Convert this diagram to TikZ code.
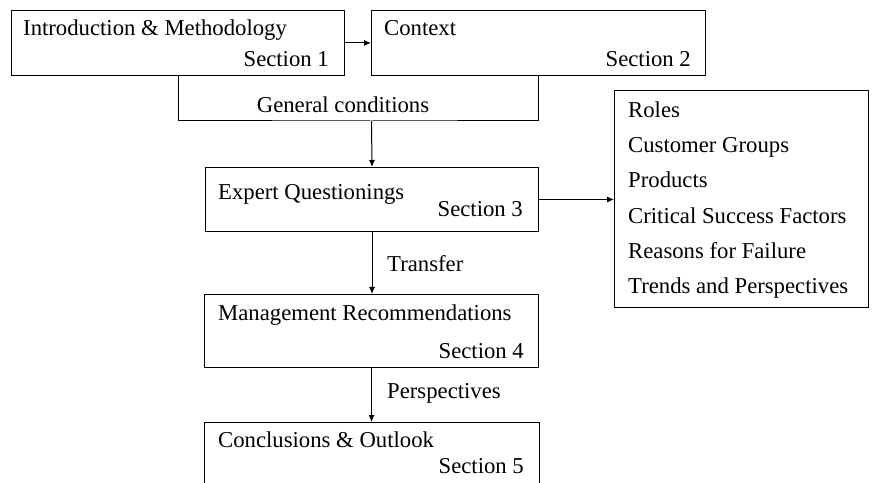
\documentclass[tikz,border=0pt]{standalone}
\usepackage{fontspec}
\setmainfont{Liberation Serif}
\usetikzlibrary{arrows.meta}
\begin{document}
\begin{tikzpicture}[x=1bp,y=-1bp,
  box/.style={draw=black,line width=1bp,rectangle,inner sep=0pt,anchor=north west},
  txt/.style={inner sep=0pt,font=\fontsize{22.8}{26}\selectfont},
  conn/.style={line width=1bp,draw=black},
  arr/.style={conn,-{Latex[length=7bp,width=6bp]}}]
\useasboundingbox (0,0) rectangle (880,483);
\clip (0,0) rectangle (880,483);
% boxes
\node[box,minimum width=333bp,minimum height=65bp] (b1) at (11,10) {};
\node[box,minimum width=334bp,minimum height=65bp] (b2) at (371,10) {};
\node[box,minimum width=333bp,minimum height=64bp] (b3) at (205,167) {};
\node[box,minimum width=254bp,minimum height=217bp] (lst) at (614,90) {};
\node[box,minimum width=334bp,minimum height=73bp] (b4) at (204,294) {};
\node[box,draw=none,minimum width=334bp,minimum height=80bp] (b5) at (204,422) {};
\draw[conn] (b5.south west) |- (b5.north east) -- (b5.south east);
% texts
\node[txt,anchor=base west] (t1) at (23,36) {Introduction \& Methodology};
\node[txt,anchor=base east] (s1) at (329,67) {Section 1};
\node[txt,anchor=base west] (t2) at (384,36) {Context};
\node[txt,anchor=base east] (s2) at (691,67) {Section 2};
\node[txt,anchor=base west] (t3) at (218,200) {Expert Questionings};
\node[txt,anchor=base east] (s3) at (523,217) {Section 3};
\node[txt,anchor=base west] (t4) at (218,321) {Management Recommendations};
\node[txt,anchor=base east] (s4) at (524,358) {Section 4};
\node[txt,anchor=base west] (t5) at (218,447) {Conclusions \& Outlook};
\node[txt,anchor=base east] (s5) at (524,473) {Section 5};
\node[txt,anchor=base] (gc) at (343,113) {General conditions};
\node[txt,anchor=base west] (tr) at (387,272) {Transfer};
\node[txt,anchor=base west] (pe) at (387,398) {Perspectives};
\node[txt,anchor=base west] (l1) at (628,118) {Roles};
\node[txt,anchor=base west] (l2) at (628,153) {Customer Groups};
\node[txt,anchor=base west] (l3) at (628,188) {Products};
\node[txt,anchor=base west] (l4) at (628,224) {Critical Success Factors};
\node[txt,anchor=base west] (l5) at (628,259) {Reasons for Failure};
\node[txt,anchor=base west] (l6) at (628,294) {Trends and Perspectives};
% connectors
\coordinate (j) at (371.5,121);
\draw[arr] (b1.east) -- (b2.west);
\draw[conn] (b1.south) |- (j) -| (b2.south);
\draw[arr] (j) -- (b3.north);
\draw[arr] (b3.east) -- (b3.east -| lst.west);
\draw[arr] (b3.south) -- (b3.south |- b4.north);
\draw[arr] (b4.south) -- (b4.south |- b5.north);
\end{tikzpicture}
\end{document}
